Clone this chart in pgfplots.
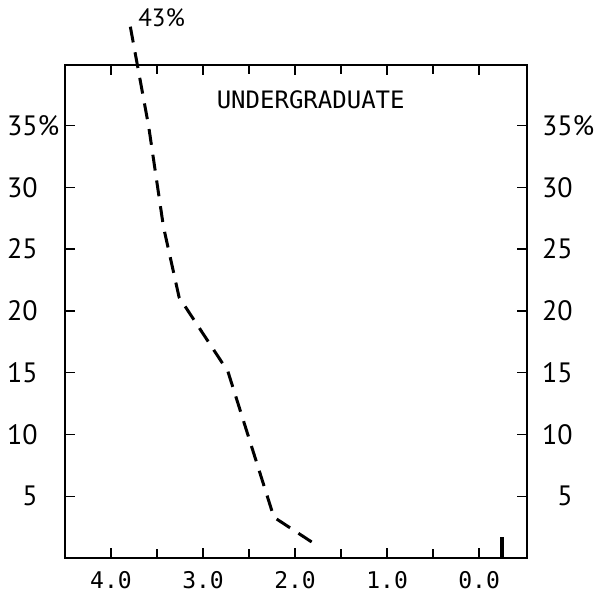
\documentclass[border=0pt]{standalone}
\usepackage{fontspec}
\usepackage{pgfplots}
\pgfplotsset{compat=1.18}
\newfontfamily\ptsans{PT Sans}
\newfontfamily\mono{DejaVu Sans Mono}
\begin{document}
\begin{tikzpicture}
\begin{axis}[
  name=main,
  scale only axis, width=231pt, height=246.5pt,
  x dir=reverse, xmin=-0.52, xmax=4.5, ymin=0, ymax=39.9,
  xtick={0,1,2,3,4}, xticklabels={0.0,1.0,2.0,3.0,4.0},
  minor xtick={0.5,1.5,2.5,3.5},
  xtick pos=both, xticklabel pos=lower,
  ytick={5,10,15,20,25,30,35},
  yticklabels={5,10,15,20,25,30,35\rlap{\%}},
  ytick pos=both, yticklabel pos=left,
  tick align=inside,
  major tick length=5pt, minor tick length=4.5pt,
  tick style={black, line width=0.7pt},
  axis line style={line width=1pt},
  xticklabel style={font=\mono\fontsize{11.5}{13}\selectfont, inner sep=0pt, anchor=north, yshift=-6.5pt},
  yticklabel style={font=\ptsans\fontsize{14}{16}\selectfont, inner sep=0pt, anchor=east, xshift=-13.5pt},
  clip=false,
]
\addplot[black, line width=1.5pt, dash pattern=on 8pt off 5pt] coordinates {
  (3.79,43) (3.59,34.9) (3.43,26.8) (3.26,21.1) (2.73,15.1) (2.23,3.3) (1.82,1.3)
};
\addplot[black, line width=2pt] coordinates {(-0.25,0) (-0.25,1.7)};
\node[font=\ptsans\fontsize{12.5}{14}\selectfont] at (axis cs:3.45,43.7) {43\%};
\node[font=\mono\fontsize{12}{14}\selectfont] at (axis cs:1.83,37.1) {UNDERGRADUATE};
\end{axis}
\begin{axis}[
  scale only axis, width=231pt, height=246.5pt,
  x dir=reverse, xmin=-0.52, xmax=4.5, ymin=0, ymax=39.9,
  hide x axis,
  axis y line*=right,
  axis line style={draw=none},
  major tick length=0pt,
  ytick={5,10,15,20,25,30,35},
  yticklabels={5,10,15,20,25,30,35\rlap{\%}},
  yticklabel style={font=\ptsans\fontsize{14}{16}\selectfont, inner sep=0pt, anchor=east, xshift=23pt},
]
\end{axis}
\pgfresetboundingbox
\path[use as bounding box] ([shift={(-32.5pt,-17pt)}]main.south west) rectangle ([shift={(37.5pt,32.5pt)}]main.north east);
\end{tikzpicture}
\end{document}
